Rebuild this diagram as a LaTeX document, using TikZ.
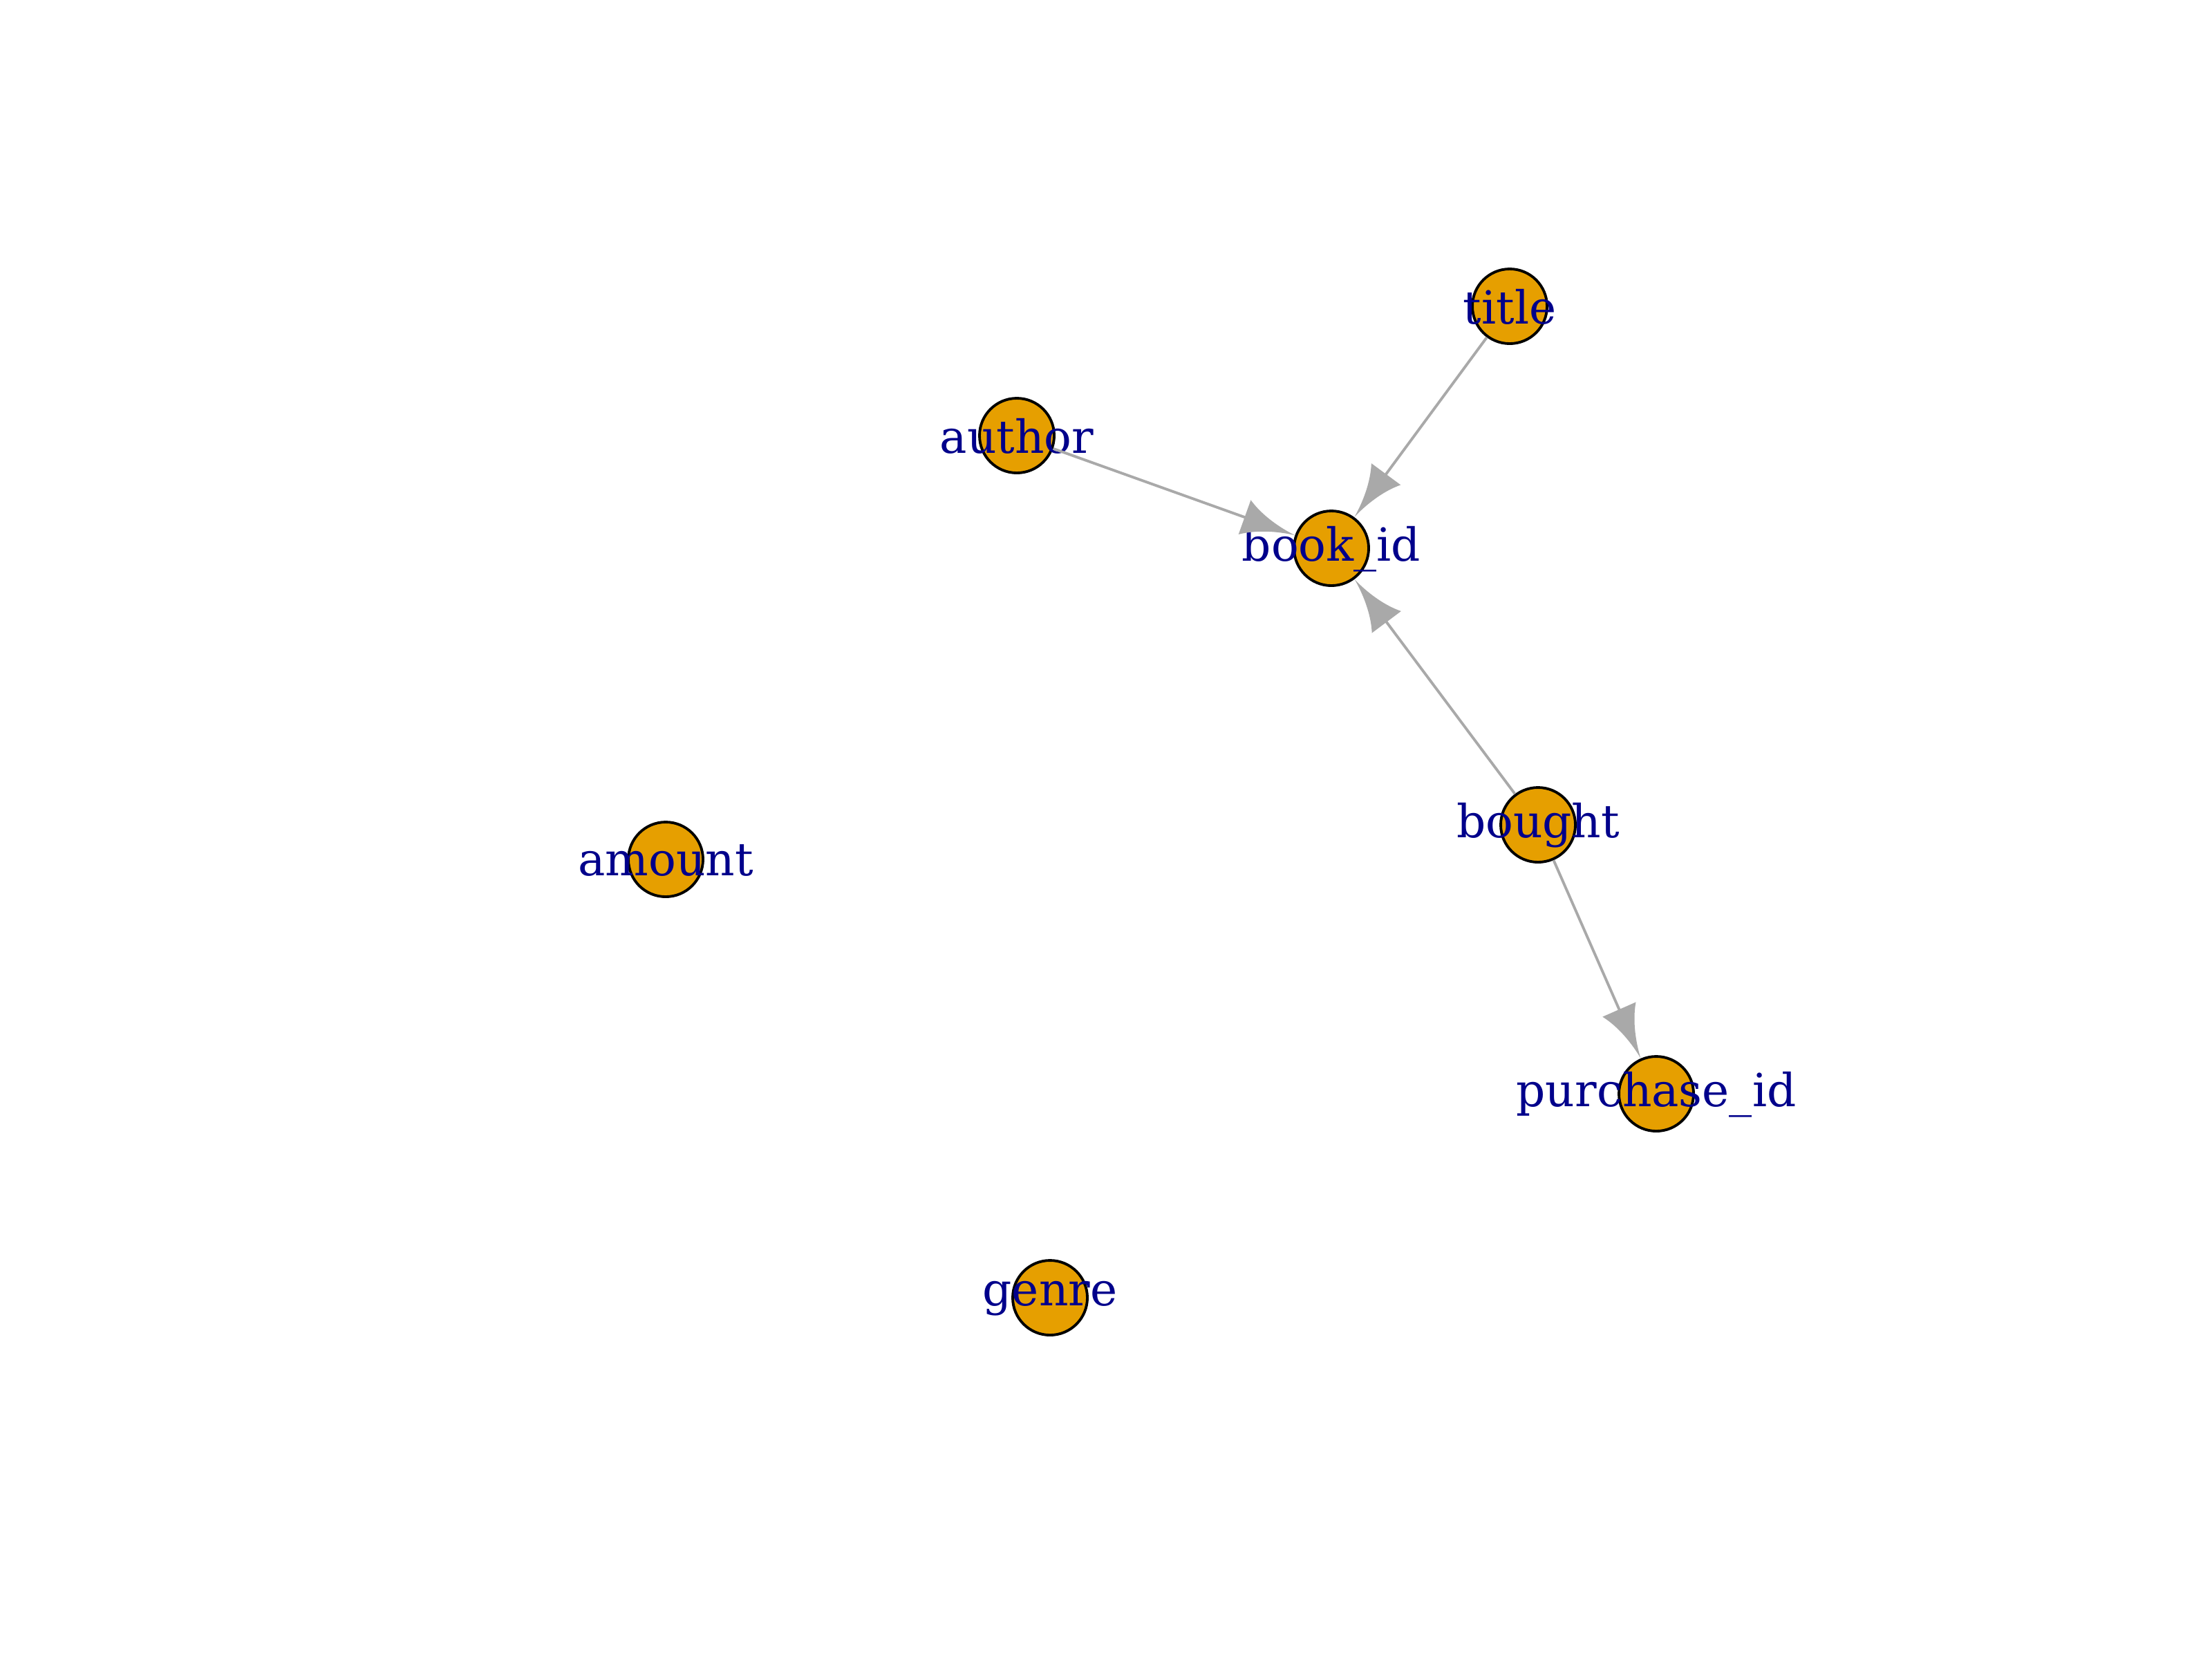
\documentclass[tikz,border=0pt]{standalone}
\usepackage{fontspec}
\setmainfont{DejaVu Serif}
\usetikzlibrary{arrows.meta}
\definecolor{vfill}{HTML}{E69F00}
\definecolor{vlabel}{HTML}{00008B}
\definecolor{egray}{HTML}{A9A9A9}
\pgfdeclarearrow{
  name = Curvy,
  defaults = {length = 11pt, width = 7.5pt},
  setup code = {
    \pgfarrowssettipend{0pt}
    \pgfarrowssetlineend{-.8\pgfarrowlength}
    \pgfarrowssetbackend{-\pgfarrowlength}
    \pgfarrowssetvisualbackend{-\pgfarrowlength}
    \pgfarrowssavethe\pgfarrowlength
    \pgfarrowssavethe\pgfarrowwidth
  },
  drawing code = {
    \pgfpathmoveto{\pgfpointorigin}
    \pgfpathcurveto{\pgfpoint{-.3\pgfarrowlength}{.05\pgfarrowwidth}}{\pgfpoint{-.7\pgfarrowlength}{.2\pgfarrowwidth}}{\pgfpoint{-\pgfarrowlength}{.5\pgfarrowwidth}}
    \pgfpathlineto{\pgfpoint{-\pgfarrowlength}{-.5\pgfarrowwidth}}
    \pgfpathcurveto{\pgfpoint{-.7\pgfarrowlength}{-.2\pgfarrowwidth}}{\pgfpoint{-.3\pgfarrowlength}{-.05\pgfarrowwidth}}{\pgfpointorigin}
    \pgfpathclose
    \pgfusepathqfill
  },
  parameters = {\the\pgfarrowlength,\the\pgfarrowwidth},
}
\begin{document}
\begin{tikzpicture}[
  vertex/.style={circle,draw=black,fill=vfill,line width=0.55pt,minimum size=0.54cm,inner sep=0pt},
  vname/.style={anchor=base,yshift=-0.005cm,text=vlabel,inner sep=0pt,font=\fontsize{9.4}{11}\selectfont},
  edge/.style={draw=egray,line width=0.55pt,-{Curvy[fill=egray]}}
]
\useasboundingbox (0,0) rectangle (16,-12);
\node[vertex,label={[vname]center:title}] (title) at (10.92,-2.215) {};
\node[vertex,label={[vname]center:author}] (author) at (7.355,-3.15) {};
\node[vertex,label={[vname]center:book\_id}] (bookid) at (9.63,-3.965) {};
\node[vertex,label={[vname]center:bought}] (bought) at (11.125,-5.965) {};
\node[vertex,label={[vname]center:purchase\_id}] (purchaseid) at (11.98,-7.91) {};
\node[vertex,label={[vname]center:amount}] (amount) at (4.815,-6.215) {};
\node[vertex,label={[vname]center:genre}] (genre) at (7.595,-9.385) {};
\draw[edge] (author)--(bookid);
\draw[edge] (title)--(bookid);
\draw[edge] (bought)--(bookid);
\draw[edge] (bought)--(purchaseid);
\end{tikzpicture}
\end{document}
